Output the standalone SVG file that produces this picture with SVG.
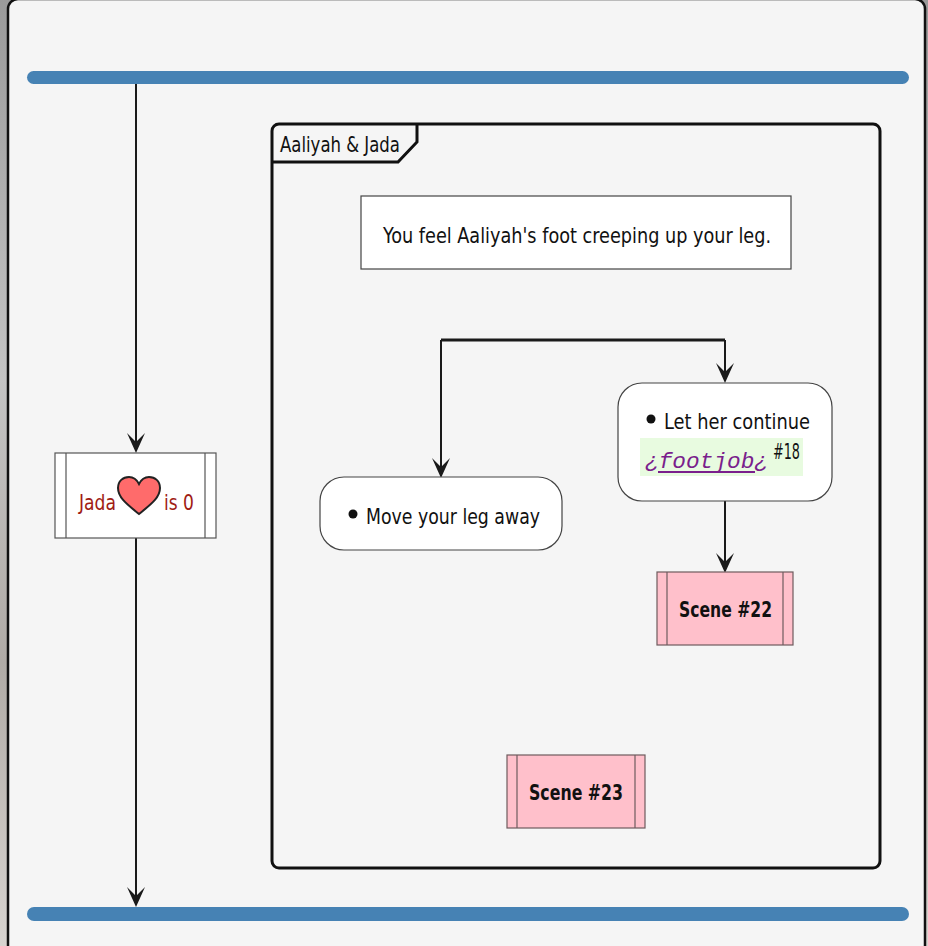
<svg xmlns="http://www.w3.org/2000/svg" width="928" height="946" viewBox="0 0 928 946">
<defs>
<linearGradient id="photo" x1="0" y1="0" x2="0" y2="1">
<stop offset="0" stop-color="#9a9a9a"/>
<stop offset="0.4" stop-color="#c4c4c4"/>
<stop offset="0.7" stop-color="#b0aba6"/>
<stop offset="1" stop-color="#d8d4d0"/>
</linearGradient>
<path id="ah" d="M0,0 L-9,-20 L0,-11 L9,-20 Z" fill="#1a1a1a"/>
<style>
.t{font-family:"Liberation Sans Narrow","DejaVu Sans Condensed","Liberation Sans",sans-serif;font-size:21px;fill:#111}
.b{font-weight:bold}
.act{fill:#fff;stroke:#444;stroke-width:1.2}
.scene{fill:#ffc0cb;stroke:#6e5b5e;stroke-width:1.2}
.ln{stroke:#1a1a1a;stroke-width:2;fill:none}
.bar{fill:#4682b4}
.mono{font-family:"Liberation Mono","DejaVu Sans Mono",monospace;font-style:italic;font-size:22px;fill:#7a1f8c}
</style>
</defs>
<rect x="0" y="0" width="928" height="946" fill="url(#photo)"/>
<rect x="8" y="-1" width="917" height="980" rx="10" fill="#f5f5f5" stroke="#111" stroke-width="2.5"/>

<g id="fork-top"><rect class="bar" x="27" y="71" width="882" height="13" rx="6.5"/></g>
<g id="fork-bottom"><rect class="bar" x="27" y="907" width="882" height="14" rx="7"/></g>

<g id="group-aaliyah-jada">
<rect x="272" y="124" width="608" height="744" rx="7" fill="none" stroke="#111" stroke-width="3"/>
<path d="M272,162 L398,162 L417,142 L417,124" fill="none" stroke="#111" stroke-width="3"/>
<text class="t" x="280" y="152" font-size="20" textLength="120" lengthAdjust="spacingAndGlyphs">Aaliyah &amp; Jada</text>
</g>

<g id="connectors">
<line class="ln" x1="136" y1="84" x2="136" y2="445"/>
<use href="#ah" x="136" y="453"/>
<line class="ln" x1="136" y1="538" x2="136" y2="899"/>
<use href="#ah" x="136" y="907"/>
<line x1="441" y1="340" x2="725" y2="340" stroke="#1a1a1a" stroke-width="3"/>
<line class="ln" x1="441" y1="340" x2="441" y2="470"/>
<use href="#ah" x="441" y="478"/>
<line class="ln" x1="725" y1="340" x2="725" y2="375"/>
<use href="#ah" x="725" y="383"/>
<line class="ln" x1="725" y1="501" x2="725" y2="565"/>
<use href="#ah" x="725" y="573"/>
</g>

<g id="jada-check">
<rect x="55" y="453" width="161" height="85" fill="#fff" stroke="#555" stroke-width="1.2"/>
<line x1="66" y1="453" x2="66" y2="538" stroke="#555" stroke-width="1.2"/>
<line x1="205" y1="453" x2="205" y2="538" stroke="#555" stroke-width="1.2"/>
<text class="t" x="79" y="510" style="fill:#a01c14" textLength="37" lengthAdjust="spacingAndGlyphs">Jada</text>
<path d="M139,514 C128,505 118,498 118,488 C118,481 123,477 129,477 C134,477 137,480 139,484 C141,480 144,477 149,477 C155,477 160,481 160,488 C160,498 150,505 139,514 Z" fill="#ff6b6b" stroke="#222" stroke-width="2"/>
<text class="t" x="164" y="510" style="fill:#a01c14" textLength="30" lengthAdjust="spacingAndGlyphs">is 0</text>
</g>

<g id="intro">
<rect class="act" x="361" y="196" width="430" height="73"/>
<text class="t" x="383" y="243" textLength="388" lengthAdjust="spacingAndGlyphs">You feel Aaliyah's foot creeping up your leg.</text>
</g>

<g id="move-away">
<rect class="act" x="320" y="477" width="242" height="73" rx="24"/>
<circle cx="353" cy="514" r="4.5" fill="#111"/>
<text class="t" x="366" y="524" textLength="174" lengthAdjust="spacingAndGlyphs">Move your leg away</text>
</g>

<g id="let-continue">
<rect class="act" x="618" y="383" width="214" height="118" rx="24"/>
<circle cx="651" cy="419" r="4.5" fill="#111"/>
<text class="t" x="664" y="429" textLength="146" lengthAdjust="spacingAndGlyphs">Let her continue</text>
<rect x="640" y="438" width="163" height="38" fill="#e8fbe0"/>
<text class="mono" x="645" y="468" textLength="123" lengthAdjust="spacingAndGlyphs">¿footjob¿</text>
<line x1="658" y1="472" x2="755" y2="472" stroke="#7a1f8c" stroke-width="2"/>
<text class="t" x="773" y="459" font-size="16" textLength="27" lengthAdjust="spacingAndGlyphs">#18</text>
</g>

<g id="scene-22">
<rect class="scene" x="657" y="572" width="136" height="73"/>
<line x1="667" y1="572" x2="667" y2="645" stroke="#6e5b5e" stroke-width="1.2"/>
<line x1="783" y1="572" x2="783" y2="645" stroke="#6e5b5e" stroke-width="1.2"/>
<text class="t b" x="679" y="617" textLength="93" lengthAdjust="spacingAndGlyphs">Scene #22</text>
</g>

<g id="scene-23">
<rect class="scene" x="507" y="755" width="138" height="73"/>
<line x1="517" y1="755" x2="517" y2="828" stroke="#6e5b5e" stroke-width="1.2"/>
<line x1="635" y1="755" x2="635" y2="828" stroke="#6e5b5e" stroke-width="1.2"/>
<text class="t b" x="529" y="800" textLength="94" lengthAdjust="spacingAndGlyphs">Scene #23</text>
</g>
</svg>
